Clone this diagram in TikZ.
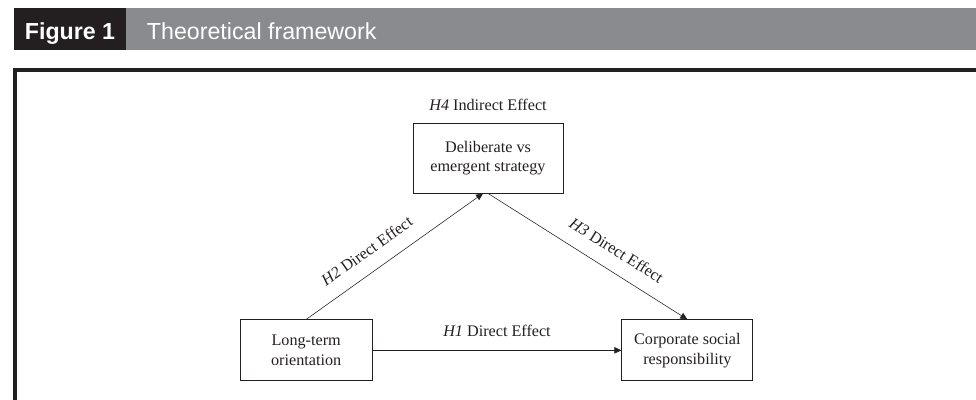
\documentclass[tikz,border=0pt]{standalone}
\usepackage{fontspec}
\setmainfont{Liberation Serif}
\newfontfamily\headfont{Liberation Sans}
\usetikzlibrary{positioning,arrows.meta}
\definecolor{inkgray}{HTML}{231F20}
\definecolor{bargray}{HTML}{8A8B8F}
\begin{document}
\begin{tikzpicture}[node distance=1cm, auto, font=\fontsize{11.5}{14}\selectfont, text=inkgray]
      \tikzstyle{block} = [rectangle, draw=inkgray, line width=0.6pt, align=center, minimum width=3.3cm, minimum height=1.525cm]
      \tikzstyle{arrow} = [line width=0.4pt, draw=inkgray, -{Triangle[length=5pt,width=4.5pt]}]
      \tikzstyle{head} = [text=white, font=\headfont\fontsize{16.5}{19}\selectfont]
      \useasboundingbox (0,0) rectangle (24.4,10);
      % title bar
      \fill[inkgray] (0.35,8.75) rectangle (3.15,9.8);
      \fill[bargray] (3.15,8.75) rectangle (24.4,9.8);
      \node[head, font=\headfont\bfseries\fontsize{16.5}{19}\selectfont, anchor=base] (fig) at (1.75,9.02) {Figure 1};
      \node[head, anchor=base west] (title) at (3.55,9.02) {Theoretical framework};
      % frame
      \draw[line width=2.8pt, inkgray] (24.6,8.24) -- (0.38,8.24) -- (0.38,-0.2);
      % boxes
      \node[block, minimum width=3.75cm, minimum height=1.75cm] (T) at (12.2,6.05) {Deliberate vs\\emergent strategy};
      \node[above=0.18cm of T] (H4) {\textit{H4} Indirect Effect};
      \node[block, below left=3.15cm and 1cm of T] (L) {Long-term\\orientation};
      \node[block, below right=3.15cm and 1.45cm of T, minimum width=3.275cm] (R) {Corporate social\\responsibility};
      % effects
      \draw[arrow] (L) -- node[midway, above=6pt] (H1) {\textit{H1} Direct Effect} (R);
      \draw[arrow] (L.north) -- node[sloped, pos=0.41, above=7pt] (H2) {\textit{H2} Direct Effect} ([xshift=-0.125cm]T.south);
      \draw[arrow] (T.south) -- node[sloped, pos=0.59, above=7pt] (H3) {\textit{H3} Direct Effect} (R.north);
    \end{tikzpicture}
\end{document}
